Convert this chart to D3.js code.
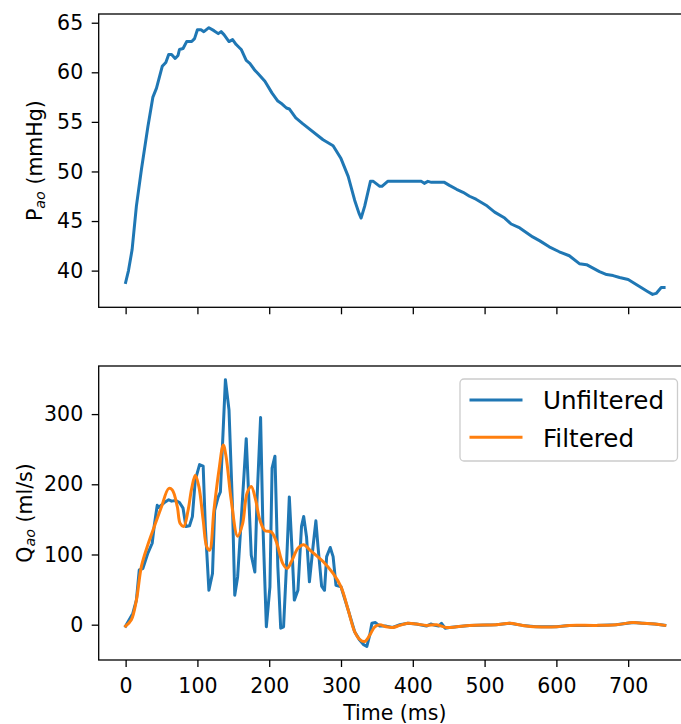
<!DOCTYPE html>
<html>
<head>
<meta charset="utf-8">
<script src="https://cdn.jsdelivr.net/npm/d3@7"></script>
<style>
  html, body { margin: 0; padding: 0; background: #fff; }
  svg { display: block; }
  text { font-family: "DejaVu Sans", sans-serif; }
</style>
</head>
<body>
<div id="chart"></div>
<script>
// ---------- data ----------
const xTicks = [0, 100, 200, 300, 400, 500, 600, 700];
const pTicks = [40, 45, 50, 55, 60, 65];
const qTicks = [0, 100, 200, 300];

// aortic pressure (mmHg)
const tP = [0,4,9,15,22,31,38,43,51,56,60,64,69,73,75,80,85,92,96,100,105,109,116,123,129,133,137,144,149,154,161,168,173,180,184,194,204,212,218,224,228,237,247,275,289,300,310,319,325,328,333,341,345,354,357,365,412,416,421,426,444,451,461,470,479,488,502,514,528,537,549,567,577,590,604,618,632,642,660,670,679,688,700,709,718,727,734,739,746,750];
const pAo = [38.8,40.0,42.1,46.5,50.2,54.5,57.5,58.4,60.6,61.0,61.8,61.8,61.4,61.7,62.3,62.4,63.1,63.1,63.4,64.3,64.3,64.1,64.5,64.2,63.9,64.1,63.8,63.1,63.3,62.8,62.3,61.2,60.9,60.2,59.9,59.1,57.9,57.1,56.8,56.4,56.3,55.4,54.8,53.2,52.6,51.3,49.5,47.1,45.8,45.3,46.5,49.0,49.0,48.5,48.5,49.0,49.0,48.8,49.0,48.9,48.9,48.6,48.2,47.9,47.5,47.2,46.6,45.9,45.3,44.7,44.3,43.4,43.0,42.4,41.9,41.5,40.7,40.6,39.9,39.6,39.5,39.3,39.1,38.7,38.3,37.9,37.6,37.7,38.3,38.3];

// aortic flow, unfiltered (ml/s)
const tQ = [0,10,15,19,24,31,37,40,44,46,54,60,64,70,75,80,84,89,93,97,103,108,111,116,121,124,129,132,139,144,149,152,156,161,168,175,180,183,188,191,196,201,204,208,212,216,220,224,228,232,235,240,245,248,252,256,261,265,268,273,277,280,285,289,293,300,310,319,326,331,336,340,343,348,354,363,372,382,393,405,419,425,431,436,440,445,451,461,479,516,535,553,572,600,618,656,683,707,720,737,751];
const qUnfiltered = [-2,16,35,78,80,102,116,142,170,167,174,178,176,177,174,166,140,141,154,206,228,226,140,49,73,163,182,189,349,306,163,42,68,149,265,99,75,178,295,149,-3,54,223,240,83,-5,-3,83,182,102,35,49,140,154,125,61,111,148,111,55,49,97,110,97,56,54,21,-10,-22,-28,-31,-15,2,3,-2,-2,-4,0,2,1,-2,1,-1,-2,2,-5,-4,-3,-1,0,2,-1,-3,-3,-1,-1,0,3,2,1,-1];

// aortic flow, filtered (ml/s)
const tQf = [0,8,15,22,31,40,50,60,65,72,76,81,87,92,97,102,108,113,117,123,130,136,140,147,156,163,169,175,181,187,194,203,210,219,225,231,240,248,256,275,289,300,310,319,326,333,340,347,354,363,372,382,393,405,419,433,447,461,479,516,535,553,572,600,618,656,683,707,721,737,751];
const qFiltered = [-2,7,35,83,114,140,168,194,192,168,144,140,163,194,213,197,149,111,106,163,220,256,239,178,126,144,187,197,178,149,134,132,118,87,80,90,109,114,107,90,73,54,21,-10,-21,-24,-15,-3,0,-3,-4,-1,2,1,-1,0,-4,-3,-1,0,2,-1,-3,-3,-1,-1,0,3,2,1,-1];

const seriesNames = ["Unfiltered", "Filtered"];
const colors = ["#1f77b4", "#ff7f0e"];

// ---------- layout ----------
const W = 681, H = 724;
const FS = 20.5;
const svg = d3.select("#chart").append("svg").attr("width", W).attr("height", H);

const x = d3.scaleLinear().domain([-37.5, 787.5]).range([98.7, 691]);
const yP = d3.scaleLinear().domain([36.3, 65.88]).range([307.3, 14]);
const yQ = d3.scaleLinear().domain([-50.3, 368.5]).range([660, 366]);

function styleAxis(g) {
  g.select(".domain").remove();
  g.selectAll(".tick line").attr("stroke", "#000").attr("stroke-width", 1.3);
  g.selectAll(".tick text").attr("fill", "#000").style("font-size", FS + "px").style("font-family", "DejaVu Sans");
}

// ----- top panel -----
const gTop = svg.append("g");
gTop.append("g").attr("transform", `translate(0,${yP.range()[0]})`)
  .call(d3.axisBottom(x).tickValues(xTicks).tickSize(7).tickFormat(""))
  .call(styleAxis);
gTop.append("g").attr("transform", `translate(${x.range()[0]},0)`)
  .call(d3.axisLeft(yP).tickValues(pTicks).tickSize(7).tickPadding(8.5))
  .call(styleAxis);

const pData = tP.map((t, i) => [t, pAo[i]]);
gTop.append("path").datum(pData)
  .attr("fill", "none").attr("stroke", colors[0]).attr("stroke-width", 3)
  .attr("stroke-linejoin", "round").attr("stroke-linecap", "square")
  .attr("d", d3.line().x(d => x(d[0])).y(d => yP(d[1])));

gTop.append("rect")
  .attr("x", x.range()[0]).attr("y", yP.range()[1])
  .attr("width", x.range()[1] - x.range()[0]).attr("height", yP.range()[0] - yP.range()[1])
  .attr("fill", "none").attr("stroke", "#000").attr("stroke-width", 1.3);

const pl = gTop.append("text")
  .attr("transform", `translate(42,${(yP.range()[0] + yP.range()[1]) / 2}) rotate(-90)`)
  .attr("text-anchor", "middle").style("font-size", FS + "px").attr("fill", "#000");
pl.append("tspan").text("P");
pl.append("tspan").text("ao").style("font-size", (FS * 0.7) + "px").style("font-style", "italic").attr("dy", 3);
pl.append("tspan").text(" (mmHg)").attr("dy", -3);

// ----- bottom panel -----
const gBot = svg.append("g");
gBot.append("g").attr("transform", `translate(0,${yQ.range()[0]})`)
  .call(d3.axisBottom(x).tickValues(xTicks).tickSize(7).tickPadding(11))
  .call(styleAxis);
gBot.append("g").attr("transform", `translate(${x.range()[0]},0)`)
  .call(d3.axisLeft(yQ).tickValues(qTicks).tickSize(7).tickPadding(8.5))
  .call(styleAxis);

const qU = tQ.map((t, i) => [t, qUnfiltered[i]]);
const qF = tQf.map((t, i) => [t, qFiltered[i]]);
gBot.append("path").datum(qU)
  .attr("fill", "none").attr("stroke", colors[0]).attr("stroke-width", 3)
  .attr("stroke-linejoin", "round").attr("stroke-linecap", "square")
  .attr("d", d3.line().x(d => x(d[0])).y(d => yQ(d[1])));
gBot.append("path").datum(qF)
  .attr("fill", "none").attr("stroke", colors[1]).attr("stroke-width", 3)
  .attr("stroke-linejoin", "round").attr("stroke-linecap", "square")
  .attr("d", d3.line().curve(d3.curveCatmullRom.alpha(0.5)).x(d => x(d[0])).y(d => yQ(d[1])));

gBot.append("rect")
  .attr("x", x.range()[0]).attr("y", yQ.range()[1])
  .attr("width", x.range()[1] - x.range()[0]).attr("height", yQ.range()[0] - yQ.range()[1])
  .attr("fill", "none").attr("stroke", "#000").attr("stroke-width", 1.3);

const ql = gBot.append("text")
  .attr("transform", `translate(31.5,${(yQ.range()[0] + yQ.range()[1]) / 2}) rotate(-90)`)
  .attr("text-anchor", "middle").style("font-size", FS + "px").attr("fill", "#000");
ql.append("tspan").text("Q");
ql.append("tspan").text("ao").style("font-size", (FS * 0.7) + "px").style("font-style", "italic").attr("dy", 3);
ql.append("tspan").text(" (ml/s)").attr("dy", -3);

svg.append("text")
  .attr("x", (x.range()[0] + x.range()[1]) / 2).attr("y", 719.5)
  .attr("text-anchor", "middle").style("font-size", FS + "px").attr("fill", "#000")
  .text("Time (ms)");

// ----- legend -----
const leg = svg.append("g");
leg.append("rect")
  .attr("x", 460).attr("y", 379).attr("width", 217.5).attr("height", 82)
  .attr("rx", 4).attr("ry", 4)
  .attr("fill", "#fff").attr("fill-opacity", 0.8)
  .attr("stroke", "#cccccc").attr("stroke-width", 1.3);
seriesNames.forEach((name, i) => {
  const yy = 400 + i * 37.3;
  leg.append("line").attr("x1", 469.5).attr("x2", 522.5).attr("y1", yy).attr("y2", yy)
    .attr("stroke", colors[i]).attr("stroke-width", 3);
  leg.append("text").attr("x", 543).attr("y", yy + 9.3)
    .style("font-size", (FS * 1.2) + "px").attr("fill", "#000").text(name);
});
</script>
</body>
</html>
